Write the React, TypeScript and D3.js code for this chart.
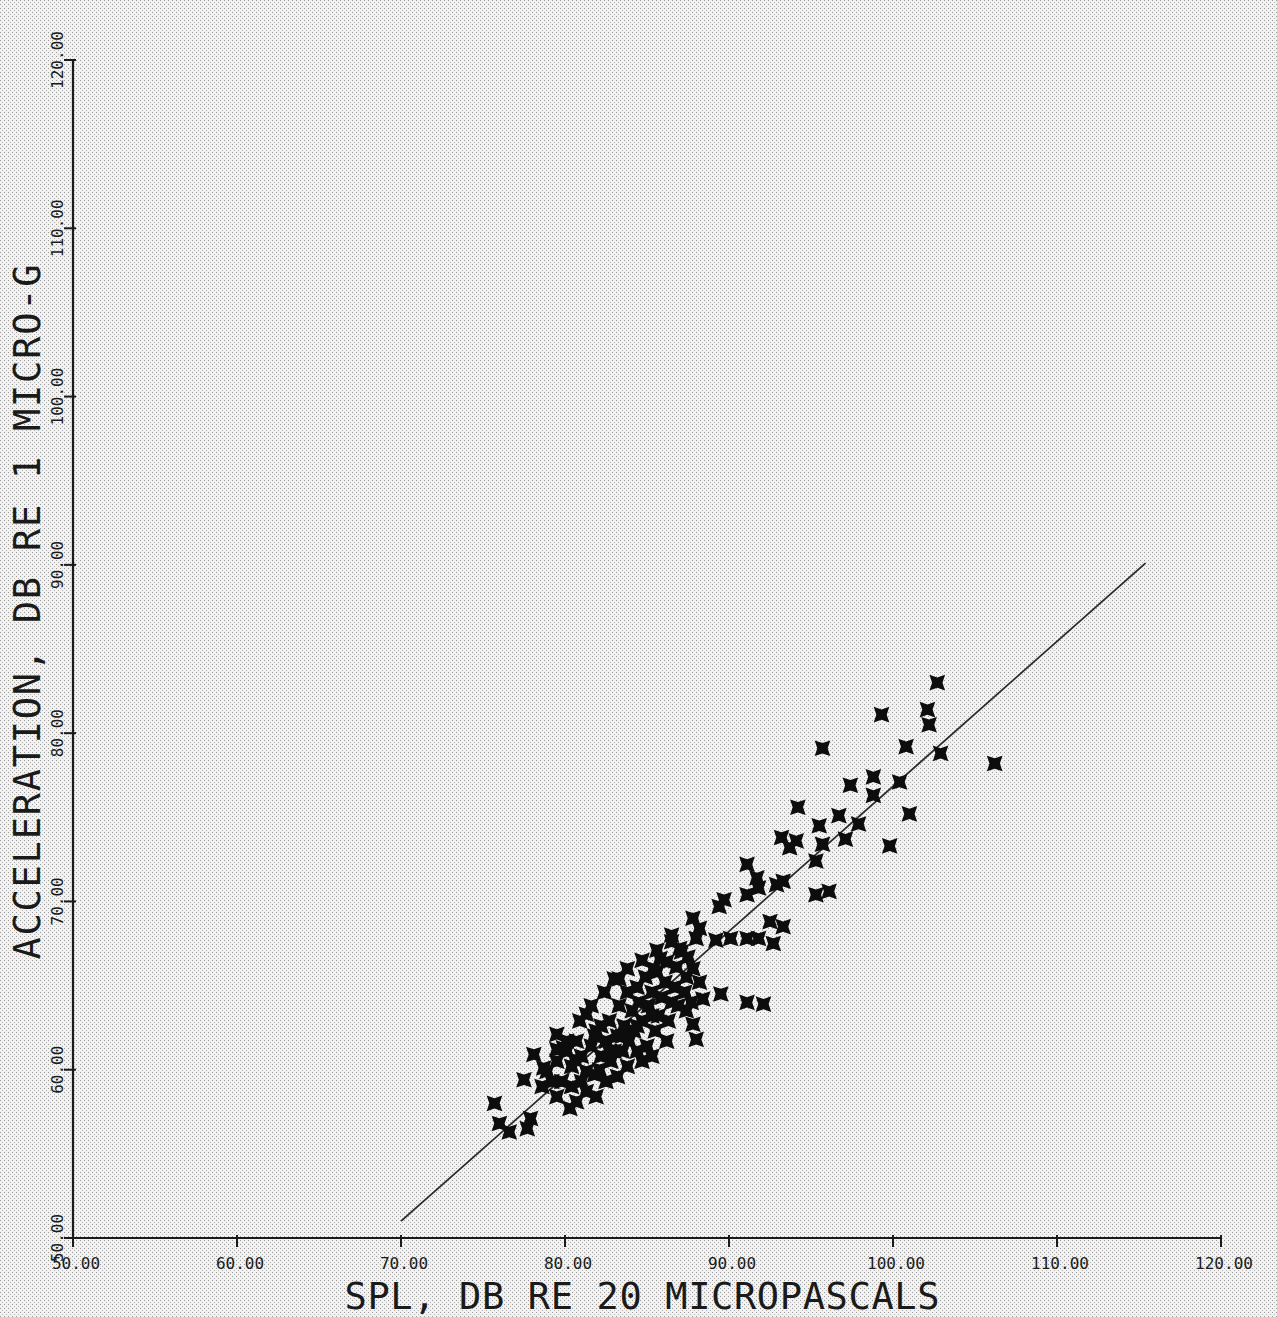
import React from "react";
import * as d3 from "d3";

// SPL (dB re 20 µPa) values of the measured points
const spl: number[] = [
  102.7, 99.3, 102.1, 102.2, 95.7, 100.8, 102.9, 106.2, 97.4, 98.8,
  98.8, 100.4, 101.0, 94.2, 95.5, 96.7, 97.9, 97.1, 94.1, 93.7,
  95.7, 95.3, 99.8, 95.3, 96.1, 93.2, 92.9, 93.3, 91.8, 91.1,
  89.7, 91.1, 91.7, 92.5, 93.3, 92.7, 87.8, 89.4, 88.0, 89.2,
  90.1, 91.1, 91.8, 88.2, 86.5, 87.0, 85.8, 85.4, 87.8, 88.2,
  88.4, 89.5, 91.1, 92.1, 87.4, 87.8, 88.0, 86.2, 83.3, 81.3,
  79.5, 79.9, 78.1, 78.7, 77.5, 81.8, 82.1, 80.3, 75.7, 76.0,
  77.7, 76.6, 77.9,
  79.5, 80.1, 80.4, 80.7, 81.0, 81.3, 81.6, 81.9, 82.2, 82.5,
  82.7, 82.8, 83.2, 83.3, 83.5, 83.6, 83.8, 83.9, 84.1, 84.2,
  84.4, 84.5, 84.7, 84.9, 85.0, 85.1, 85.3, 85.5, 85.6, 85.7,
  85.9, 86.1, 86.2, 86.3, 86.5, 86.7, 86.8, 86.9, 87.1, 87.3,
  87.4, 87.5, 87.7, 84.7, 85.3, 82.5, 83.2, 81.3, 81.9, 80.4,
  80.7, 79.5, 79.2, 78.6, 78.9, 79.8, 81.0, 83.8, 84.4, 83.0,
  82.2,
  80.9, 81.6, 82.4, 83.0, 83.8, 84.7, 85.6, 86.5, 80.1, 79.5,
  80.6, 82.7, 83.5, 84.4, 85.3, 81.8,
];

// Acceleration (dB re 1 micro-g) values of the measured points
const accel: number[] = [
  83.0, 81.1, 81.4, 80.5, 79.1, 79.2, 78.8, 78.2, 76.9, 77.4,
  76.3, 77.1, 75.2, 75.6, 74.5, 75.1, 74.6, 73.7, 73.6, 73.2,
  73.4, 72.4, 73.3, 70.4, 70.6, 73.8, 71.0, 71.2, 70.8, 70.4,
  70.1, 72.2, 71.4, 68.8, 68.5, 67.5, 69.0, 69.7, 67.8, 67.7,
  67.8, 67.8, 67.8, 68.4, 68.0, 67.2, 66.6, 66.0, 66.0, 65.2,
  64.2, 64.5, 64.0, 63.9, 63.5, 62.7, 61.8, 61.7, 65.4, 63.3,
  62.1, 61.3, 60.9, 60.1, 59.4, 59.7, 60.0, 57.7, 58.0, 56.8,
  56.5, 56.3, 57.1,
  60.5, 61.1, 60.2, 61.7, 60.8, 59.9, 61.4, 62.3, 60.8, 61.7,
  62.9, 60.5, 62.0, 63.8, 61.1, 62.6, 64.6, 61.7, 63.5, 62.3,
  64.9, 64.0, 62.9, 65.5, 61.4, 63.8, 64.6, 62.3, 65.8, 63.2,
  64.3, 65.2, 66.4, 62.9, 64.0, 64.9, 66.1, 63.8, 67.0, 64.6,
  65.5, 66.7, 64.0, 60.5, 60.8, 59.3, 59.6, 58.7, 58.4, 59.0,
  58.1, 58.4, 59.3, 59.0, 59.9, 59.3, 59.3, 60.2, 61.1, 61.1,
  62.6,
  62.9, 63.8, 64.6, 65.4, 66.0, 66.5, 67.1, 67.6, 61.7, 61.2,
  60.6, 61.1, 62.0, 62.6, 63.2, 62.0,
];

// Fitted regression line end points
const fitX: number[] = [70.0, 115.4];
const fitY: number[] = [51.0, 90.1];

const xTicks: number[] = [50, 60, 70, 80, 90, 100, 110, 120];
const yTicks: number[] = [50, 60, 70, 80, 90, 100, 110, 120];

const xTitle = "SPL, DB RE 20 MICROPASCALS";
const yTitle = "ACCELERATION, DB RE 1 MICRO-G";

const W = 1277;
const H = 1317;
const ink = "#1a1a1a";
const mono = "'DejaVu Sans Mono', 'Liberation Mono', monospace";

export default function App() {
  const x = d3.scaleLinear().domain([50, 120]).range([73, 1221]);
  const y = d3.scaleLinear().domain([50, 120]).range([1238, 60]);
  const fmt = d3.format(".2f");

  const points = spl.map((v, i) => [v, accel[i]] as [number, number]);
  const fit = fitX.map((v, i) => [v, fitY[i]] as [number, number]);
  const line = d3
    .line<[number, number]>()
    .x((d) => x(d[0]))
    .y((d) => y(d[1]));

  // four-pointed bold "X" plotter marker
  const s = 7.8;
  const n = 5.2;
  const marker = `M${-s},${-s}L0,${-n}L${s},${-s}L${n},0L${s},${s}L0,${n}L${-s},${s}L${-n},0Z`;

  return (
    <svg
      width={W}
      height={H}
      style={{ position: "absolute", left: 0, top: 0, display: "block" }}
    >
      <defs>
        <pattern id="halftone" width="4" height="4" patternUnits="userSpaceOnUse">
          <rect width="4" height="4" fill="#f2f2f2" />
          <rect x="0" y="0" width="1" height="1" fill="#999999" />
          <rect x="2" y="2" width="1" height="1" fill="#b4b4b4" />
        </pattern>
      </defs>
      <rect width={W} height={H} fill="url(#halftone)" />

      {/* axes */}
      <line x1={x(50)} x2={x(120)} y1={y(50)} y2={y(50)} stroke={ink} strokeWidth={2.2} />
      <line x1={x(50)} x2={x(50)} y1={y(50)} y2={y(120)} stroke={ink} strokeWidth={2.2} />

      {xTicks.map((t) => (
        <g key={"xt" + t}>
          <line x1={x(t)} x2={x(t)} y1={y(50) - 3} y2={y(50) + 9} stroke={ink} strokeWidth={2} />
          <text
            x={x(t) + 3}
            y={y(50) + 31}
            textAnchor="middle"
            fontFamily={mono}
            fontSize={16}
            fill={ink}
          >
            {fmt(t)}
          </text>
        </g>
      ))}

      {yTicks.map((t) => (
        <g key={"yt" + t}>
          <line x1={x(50) - 9} x2={x(50) + 3} y1={y(t)} y2={y(t)} stroke={ink} strokeWidth={2} />
          <text
            transform={`translate(${x(50) - 10},${y(t)}) rotate(-90)`}
            textAnchor="middle"
            fontFamily={mono}
            fontSize={16}
            fill={ink}
          >
            {fmt(t)}
          </text>
        </g>
      ))}

      {/* axis titles */}
      <text
        x={642}
        y={1309}
        textAnchor="middle"
        fontFamily={mono}
        fontSize={37}
        textLength={595}
        lengthAdjust="spacing"
        fill={ink}
      >
        {xTitle}
      </text>
      <text
        transform={`translate(40,612) rotate(-90)`}
        textAnchor="middle"
        fontFamily={mono}
        fontSize={37}
        textLength={695}
        lengthAdjust="spacing"
        fill={ink}
      >
        {yTitle}
      </text>

      {/* fitted line */}
      <path d={line(fit) || ""} fill="none" stroke="#2a2a2a" strokeWidth={1.8} />

      {/* data points */}
      {points.map((p, i) => (
        <path
          key={"p" + i}
          d={marker}
          transform={`translate(${x(p[0])},${y(p[1])})`}
          fill="#0d0d0d"
        />
      ))}
    </svg>
  );
}
